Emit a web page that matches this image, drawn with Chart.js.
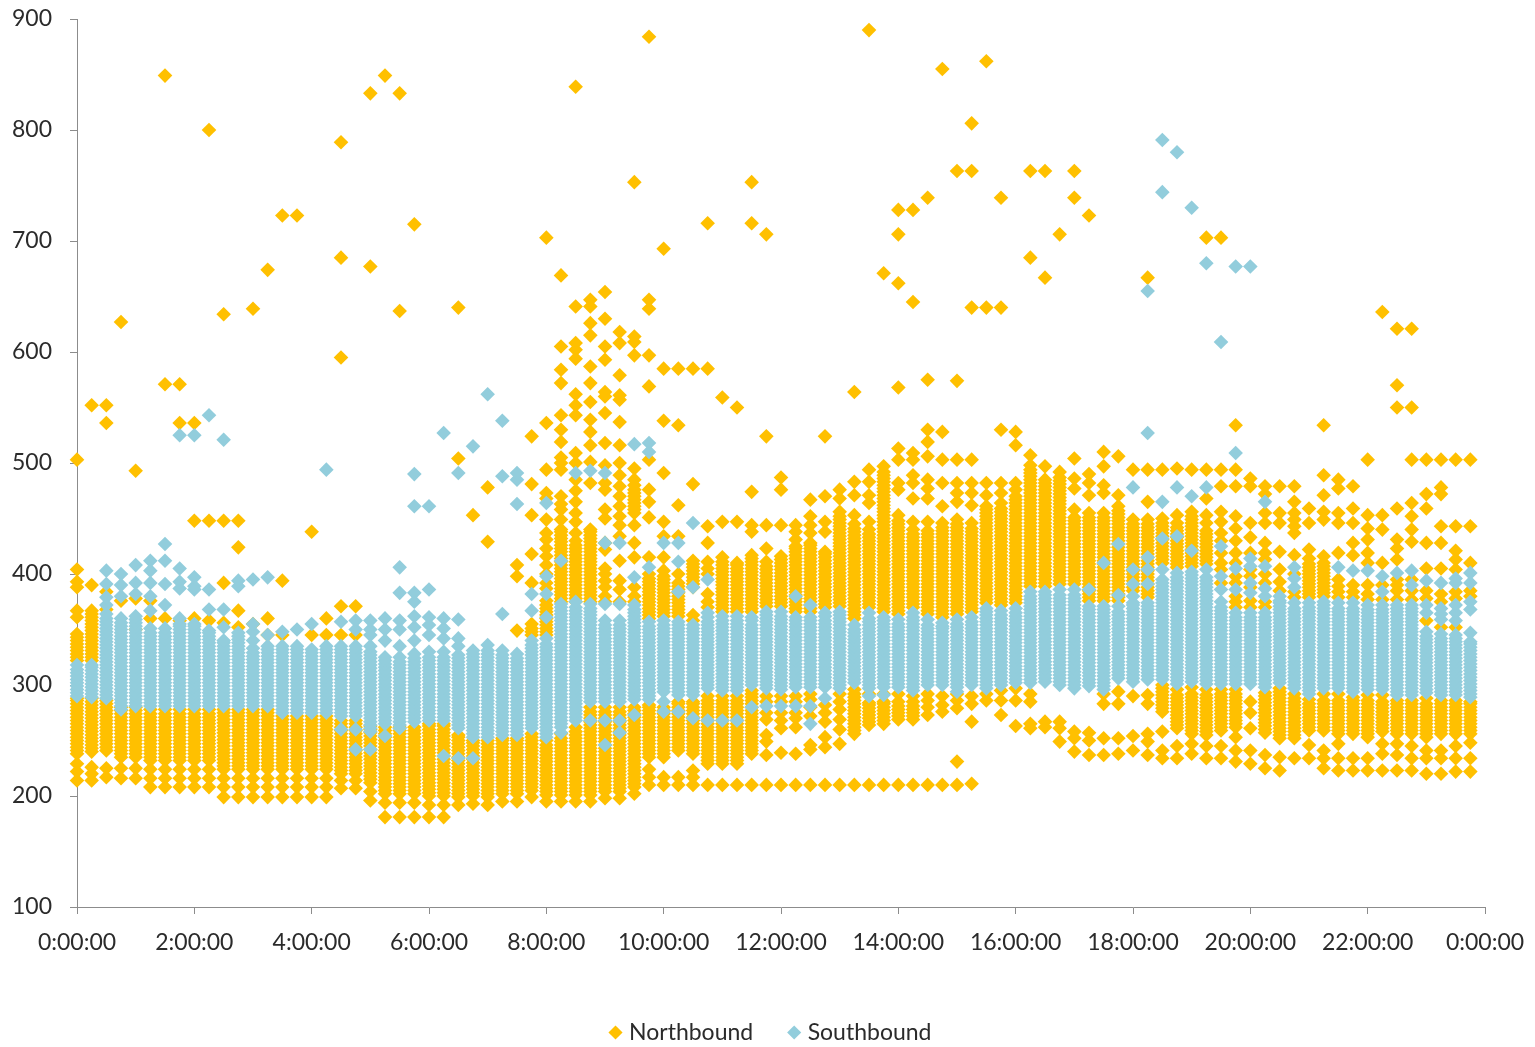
<!DOCTYPE html>
<html>
<head>
<meta charset="utf-8">
<title>Northbound / Southbound</title>
<script src="https://cdn.jsdelivr.net/npm/chart.js@4"></script>
<style>
  body { margin: 0; background: #fff; }
  canvas { display: block; }
</style>
</head>
<body>
<canvas id="chart" width="1535" height="1047"></canvas>
<script>
// minutes after midnight, one column of readings per quarter hour
const slots = [0,15,30,45,60,75,90,105,120,135,150,165,180,195,210,225,240,255,270,285,300,315,330,345,360,375,390,405,420,435,450,465,480,495,510,525,540,555,570,585,600,615,630,645,660,675,690,705,720,735,750,765,780,795,810,825,840,855,870,885,900,915,930,945,960,975,990,1005,1020,1035,1050,1065,1080,1095,1110,1125,1140,1155,1170,1185,1200,1215,1230,1245,1260,1275,1290,1305,1320,1335,1350,1365,1380,1395,1410,1425];

const xTickLabels = ['0:00:00','2:00:00','4:00:00','6:00:00','8:00:00','10:00:00','12:00:00','14:00:00','16:00:00','18:00:00','20:00:00','22:00:00','0:00:00'];

// values, slot by slot
const northbound = [
[214,222,229,238,241,244,247,250,253,256,259,262,265,268,271,274,277,280,283,286,288,322,325,328,331,334,337,340,343,346,361,367,388,393,404,503],
[214,220,226,240,243,246,249,252,255,258,261,264,267,270,273,276,279,282,285,288,322,325,328,331,334,337,340,343,346,349,352,355,358,361,364,367,390,552],
[217,225,241,244,247,250,253,256,259,262,265,268,271,274,277,280,283,286,368,384,536,552],
[216,225,235,238,241,244,247,250,253,256,259,262,265,268,271,274,277,280,376,627],
[216,225,235,238,241,244,247,250,253,256,259,262,265,268,271,274,277,280,350,378,493],
[208,216,224,232,235,238,241,244,247,250,253,256,259,262,265,268,271,274,278,360,376],
[208,216,224,232,235,238,241,244,247,250,253,256,259,262,265,268,271,274,278,360,571,849],
[208,216,224,232,235,238,241,244,247,250,253,256,259,262,265,268,271,274,278,358,536,571],
[208,216,224,232,235,238,241,244,247,250,253,256,259,262,265,268,271,274,278,360,448,536],
[208,216,224,232,235,238,241,244,247,250,253,256,259,262,265,268,271,274,278,358,448,800],
[199,208,216,224,227,230,233,236,239,242,245,248,251,254,257,260,263,266,269,272,275,278,356,392,448,634],
[199,208,216,224,227,230,233,236,239,242,245,248,251,254,257,260,263,266,269,272,275,278,352,367,424,448],
[199,208,216,224,227,230,233,236,239,242,245,248,251,254,257,260,263,266,269,272,275,278,355,639],
[199,208,216,224,227,230,233,236,239,242,245,248,251,254,257,260,263,266,269,272,275,278,345,360,674],
[199,208,216,224,227,230,233,236,239,242,245,248,251,254,257,260,263,266,269,272,345,394,723],
[199,208,216,224,227,230,233,236,239,242,245,248,251,254,257,260,263,266,269,272,723],
[199,208,216,224,227,230,233,236,239,242,245,248,251,254,257,260,263,266,269,272,345,438],
[199,208,216,224,227,230,233,236,239,242,245,248,251,254,257,260,263,266,269,272,345,360],
[207,214,220,223,226,229,232,235,238,241,244,247,250,253,256,259,262,265,268,345,371,595,685,789],
[207,214,220,223,226,229,232,235,238,241,244,247,250,253,256,259,262,265,268,345,371],
[196,204,212,215,218,221,224,227,230,233,236,239,242,245,248,251,254,257,260,263,677,833],
[181,194,202,205,208,211,214,217,220,223,226,229,232,235,238,241,244,247,250,253,256,259,262,849],
[181,194,202,205,208,211,214,217,220,223,226,229,232,235,238,241,244,247,250,253,256,259,262,637,833],
[181,194,202,205,208,211,214,217,220,223,226,229,232,235,238,241,244,247,250,253,256,259,262,715],
[181,192,200,203,206,209,212,215,218,221,224,227,230,233,236,239,242,245,248,251,254,257,260,263,265],
[181,192,200,203,206,209,212,215,218,221,224,227,230,233,236,239,242,245,248,251,254,257,260,263,265],
[192,199,202,205,208,211,214,217,220,223,226,229,232,235,238,241,244,247,250,253,255,504,640],
[193,200,203,206,209,212,215,218,221,224,227,230,233,236,239,242,245,248,250,453],
[192,199,202,205,208,211,214,217,220,223,226,229,232,235,238,241,244,247,250,429,478],
[195,202,205,208,211,214,217,220,223,226,229,232,235,238,241,244,247,250,252],
[195,202,205,208,211,214,217,220,223,226,229,232,235,238,241,244,247,250,252,349,398,408],
[199,205,208,211,214,217,220,223,226,229,232,235,238,241,244,247,250,253,256,345,348,351,355,392,418,453,481,524],
[195,201,204,207,210,213,216,219,222,225,228,231,234,237,240,243,246,250,345,348,351,354,357,360,363,366,369,372,376,387,392,400,408,416,423,431,437,449,468,473,494,536,703],
[195,201,204,207,210,213,216,219,222,225,228,231,234,237,240,243,246,249,252,256,375,378,381,384,387,390,393,396,399,402,405,408,411,414,417,420,423,426,429,432,435,438,440,449,458,463,470,494,500,505,519,530,543,572,584,605,669],
[195,201,204,207,210,213,216,219,222,225,228,231,234,237,240,243,246,249,252,255,258,262,375,378,381,384,387,390,393,396,399,402,405,408,411,414,417,420,423,426,430,437,447,455,465,475,485,500,509,543,552,562,594,602,608,641,839],
[195,201,204,207,210,213,216,219,222,225,228,231,234,237,240,243,246,249,252,255,258,261,264,267,270,273,276,280,375,378,381,384,387,390,393,396,399,402,405,408,411,414,417,420,423,426,429,432,435,438,440,482,501,516,528,539,555,572,587,615,626,641,647],
[198,204,207,210,213,216,219,222,225,228,231,234,237,240,243,246,249,252,255,258,261,264,267,270,273,276,280,375,380,388,394,400,405,422,428,450,458,476,482,498,518,545,560,564,593,605,630,654],
[198,204,207,210,213,216,219,222,225,228,231,234,237,240,243,246,249,252,255,258,261,264,267,270,273,276,280,375,386,394,412,434,444,452,461,470,479,489,500,516,537,557,561,579,608,618],
[202,208,211,214,217,220,223,226,229,232,235,238,241,244,247,250,253,256,259,262,265,268,271,274,277,280,375,380,388,415,428,444,455,458,461,464,467,470,473,476,480,485,495,597,609,614,753],
[210,217,224,235,238,241,244,247,250,253,256,259,262,265,268,271,274,277,280,282,360,363,366,369,372,375,378,381,384,387,390,393,396,400,415,451,465,476,503,569,597,639,647,884],
[210,217,235,238,241,244,247,250,253,256,259,262,265,268,271,274,277,280,362,365,368,371,374,377,380,383,386,389,392,395,398,403,415,434,447,491,538,585,693],
[210,217,241,244,247,250,253,256,259,262,265,268,271,274,277,280,283,285,362,365,368,371,374,377,380,383,386,389,392,400,434,462,534,585],
[210,217,223,238,241,244,247,250,253,256,259,262,265,268,271,274,277,280,283,285,358,363,388,391,394,397,400,403,406,409,412,481,585],
[210,229,232,235,238,241,244,247,250,253,256,259,262,265,268,271,274,277,280,283,286,290,370,375,382,400,405,411,428,443,585,716],
[210,229,232,235,238,241,244,247,250,253,256,259,262,265,268,271,274,277,280,283,286,290,366,369,372,375,378,381,384,387,390,393,396,399,402,405,408,411,415,447,559],
[210,229,232,235,238,241,244,247,250,253,256,259,262,265,268,271,274,277,280,283,286,290,366,369,372,375,378,381,384,387,390,393,396,399,402,405,408,410,447,550],
[210,238,241,244,247,250,253,256,259,262,265,268,271,274,277,280,283,286,289,292,295,366,369,372,375,378,381,384,387,390,393,396,399,402,405,408,411,414,417,438,444,474,716,753],
[210,237,249,255,269,275,285,290,371,374,377,380,383,386,389,392,395,398,401,404,407,411,423,444,524,706],
[210,239,261,268,275,285,290,371,374,377,380,383,386,389,392,395,398,401,404,407,410,413,416,444,476,487],
[210,238,262,270,275,285,290,366,369,372,375,378,381,384,387,390,393,396,399,402,405,408,411,414,417,420,423,425,431,438,444],
[210,242,246,272,280,287,292,366,369,372,375,378,381,384,387,390,393,396,399,402,405,408,411,414,417,420,423,426,428,437,444,452,467],
[210,244,253,267,275,282,370,373,376,379,382,385,388,391,394,397,400,403,406,409,412,415,418,420,438,447,470,524],
[210,247,260,269,278,285,292,371,374,377,380,383,386,389,392,395,398,401,404,407,410,413,416,419,422,425,428,431,434,437,440,443,446,449,452,456,468,476],
[210,256,259,262,265,268,271,274,277,280,283,286,289,292,296,360,363,366,369,372,375,378,381,384,387,390,393,396,399,402,405,408,411,414,417,420,423,426,429,432,435,438,441,445,453,471,483,564],
[210,264,267,270,273,276,279,282,284,292,370,373,376,379,382,385,388,391,394,397,400,403,406,409,412,415,418,421,424,427,430,433,436,440,447,464,471,483,494,890],
[210,265,268,271,274,277,280,283,285,292,366,369,372,375,378,381,384,387,390,393,396,399,402,405,408,411,414,417,420,423,426,429,432,435,438,441,444,447,450,453,456,459,462,465,468,471,474,477,480,483,486,489,492,497,671],
[210,269,272,275,278,281,285,292,364,367,370,373,376,379,382,385,388,391,394,397,400,403,406,409,412,415,418,421,424,427,430,433,436,439,442,445,448,453,476,482,503,513,568,662,706,728],
[210,269,272,275,278,281,285,290,370,373,376,379,382,385,388,391,394,397,400,403,406,409,412,415,418,421,424,427,430,433,436,440,447,468,482,489,503,509,645,728],
[210,273,280,286,292,364,367,370,373,376,379,382,385,388,391,394,397,400,403,406,409,412,415,418,421,424,427,430,433,436,439,447,468,477,485,506,519,530,575,739],
[210,276,282,290,361,364,367,370,373,376,379,382,385,388,391,394,397,400,403,406,409,412,415,418,421,424,427,430,433,436,439,442,446,461,482,503,528,855],
[210,231,279,286,292,364,367,370,373,376,379,382,385,388,391,394,397,400,403,406,409,412,415,418,421,424,427,430,433,436,439,442,445,449,465,473,482,503,574,763],
[211,267,283,290,366,369,372,375,378,381,384,387,390,393,396,399,402,405,408,411,414,417,420,423,426,429,432,435,438,441,446,462,473,482,503,640,763,806],
[286,292,374,377,380,383,386,389,392,395,398,401,404,407,410,413,416,419,422,425,428,431,434,437,440,443,446,449,452,455,458,461,471,482,640,862],
[273,286,295,372,375,378,381,384,387,390,393,396,399,402,405,408,411,414,417,420,423,426,429,432,435,438,441,444,447,450,453,456,459,464,473,482,530,640,739],
[263,286,297,374,377,380,383,386,389,392,395,398,401,404,407,410,413,416,419,422,425,428,431,434,437,440,443,446,449,452,455,458,461,464,467,470,476,482,516,528],
[261,265,285,292,389,392,395,398,401,404,407,410,413,416,419,422,425,428,431,434,437,440,443,446,449,452,455,458,461,464,467,470,473,476,479,482,485,488,491,494,498,507,685,763],
[262,267,389,392,395,398,401,404,407,410,413,416,419,422,425,428,431,434,437,440,443,446,449,452,455,458,461,464,467,470,473,476,479,482,485,497,667,763],
[249,261,267,391,394,397,400,403,406,409,412,415,418,421,424,427,430,433,436,439,442,445,448,451,454,457,460,463,466,469,472,475,478,481,484,487,492,706],
[240,252,258,391,394,397,400,403,406,409,412,415,418,421,424,427,430,433,436,439,442,445,448,451,458,477,486,504,739,763],
[237,250,257,376,379,382,385,388,391,394,397,400,403,406,409,412,415,418,421,424,427,430,433,436,439,442,445,448,451,455,471,482,490,723],
[237,252,283,292,376,379,382,385,388,391,394,397,400,403,406,409,412,415,418,421,424,427,430,433,436,439,442,445,448,451,455,473,480,497,510],
[238,252,283,294,376,379,382,385,388,391,394,397,400,403,406,409,412,415,418,421,424,427,430,433,436,439,442,445,448,451,454,457,461,471,506],
[241,254,290,385,388,391,394,397,400,403,406,409,412,415,418,421,424,427,430,433,436,439,442,445,449,494],
[237,249,256,283,291,379,382,385,388,391,394,397,400,403,406,409,412,415,418,421,424,427,430,433,436,439,442,445,449,465,494,667],
[234,241,258,276,279,282,285,288,291,294,297,300,410,413,416,419,422,425,428,431,434,437,440,443,446,450,494],
[234,245,261,264,267,270,273,276,279,282,285,288,291,296,406,409,412,415,418,421,424,427,430,433,436,439,442,446,453,495],
[238,247,256,259,262,265,268,271,274,277,280,283,286,289,292,298,407,410,413,416,419,422,425,428,431,434,437,440,443,446,449,452,456,494],
[234,245,255,258,261,264,267,270,273,276,279,282,285,288,291,296,409,412,415,418,421,424,427,430,433,436,439,446,453,468,494,703],
[234,245,259,262,265,268,271,274,277,280,283,286,289,292,296,392,404,410,419,430,437,447,456,479,494,703],
[231,241,253,262,265,268,271,274,277,280,283,286,289,292,296,370,375,380,392,398,410,419,430,441,452,479,494,534],
[229,241,261,275,285,370,376,388,398,404,419,433,446,479,486],
[225,237,257,260,263,266,269,272,275,278,281,284,287,290,293,370,375,392,400,413,419,428,446,455,472,479],
[223,235,252,255,258,261,264,267,270,273,276,279,282,285,288,291,294,297,385,393,404,420,446,455,479],
[234,252,255,258,261,264,267,270,273,276,279,282,285,288,292,379,384,400,417,437,443,449,455,465,479],
[234,246,259,262,265,268,271,274,277,280,283,287,379,382,385,388,391,394,397,400,403,406,409,414,422,446,459],
[225,234,241,259,262,265,268,271,274,277,280,283,286,292,380,383,386,389,392,395,398,401,404,407,410,416,449,456,471,489,534],
[223,234,247,256,259,262,265,268,271,274,277,280,283,286,292,379,384,389,395,419,446,455,477,485],
[223,234,256,259,262,265,268,271,274,277,280,283,286,289,379,384,390,417,428,446,459,479],
[223,234,253,256,259,262,265,268,271,274,277,280,283,286,291,377,382,390,410,419,431,441,453,503],
[223,238,247,258,261,264,267,270,273,276,279,282,285,291,377,390,410,440,453,636],
[223,237,247,256,259,262,265,268,271,274,277,280,283,286,377,385,390,395,413,423,431,459,550,570,621],
[223,234,245,256,259,262,265,268,271,274,277,280,283,286,377,385,395,429,440,452,464,503,550,621],
[220,234,241,253,256,259,262,265,268,271,274,277,280,283,288,358,378,385,405,428,459,472,503],
[220,234,241,256,259,262,265,268,271,274,277,280,283,286,352,375,382,405,428,443,472,478,503],
[222,234,245,256,259,262,265,268,271,274,277,280,283,286,352,378,384,404,413,421,443,503],
[222,234,248,256,259,262,265,268,271,274,277,280,283,285,380,385,410,443,503]
];

const southbound = [
[290,293,296,299,302,305,308,311,314,318],
[289,292,295,298,301,304,307,310,313,316,318],
[288,291,294,297,300,303,306,309,312,315,318,321,324,327,330,333,336,339,342,345,348,351,354,357,360,364,372,379,391,403],
[278,281,284,287,290,293,296,299,302,305,308,311,314,317,320,323,326,329,332,335,338,341,344,347,350,353,356,360,380,390,400],
[281,284,287,290,293,296,299,302,305,308,311,314,317,320,323,326,329,332,335,338,341,344,347,350,353,356,359,362,382,392,408],
[281,284,287,290,293,296,299,302,305,308,311,314,317,320,323,326,329,332,335,338,341,344,347,351,367,380,392,403,412],
[281,284,287,290,293,296,299,302,305,308,311,314,317,320,323,326,329,332,335,338,341,344,347,351,372,391,412,427],
[281,284,287,290,293,296,299,302,305,308,311,314,317,320,323,326,329,332,335,338,341,344,347,350,353,355,360,387,393,405,525],
[281,284,287,290,293,296,299,302,305,308,311,314,317,320,323,326,329,332,335,338,341,344,347,350,353,355,386,389,397,525],
[281,284,287,290,293,296,299,302,305,308,311,314,317,320,323,326,329,332,335,338,341,344,347,349,368,386,543],
[281,284,287,290,293,296,299,302,305,308,311,314,317,320,323,326,329,332,335,338,340,352,368,521],
[281,284,287,290,293,296,299,302,305,308,311,314,317,320,323,326,329,332,335,338,341,344,347,389,394],
[281,284,287,290,293,296,299,302,305,308,311,314,317,320,323,326,329,333,340,348,355,395],
[281,284,287,290,293,296,299,302,305,308,311,314,317,320,323,326,329,332,335,345,397],
[275,278,281,284,287,290,293,296,299,302,305,308,311,314,317,320,323,326,329,332,335,348],
[275,278,281,284,287,290,293,296,299,302,305,308,311,314,317,320,323,326,329,332,335,350],
[275,278,281,284,287,290,293,296,299,302,305,308,311,314,317,320,323,326,329,332,355],
[275,278,281,284,287,290,293,296,299,302,305,308,311,314,317,320,323,326,329,332,335,494],
[260,272,275,278,281,284,287,290,293,296,299,302,305,308,311,314,317,320,323,326,329,332,335,357],
[242,260,272,275,278,281,284,287,290,293,296,299,302,305,308,311,314,317,320,323,326,329,332,335,350,358],
[242,258,261,264,267,270,273,276,279,282,285,288,291,294,297,300,303,306,309,312,315,318,321,324,327,330,335,345,350,358],
[254,265,268,271,274,277,280,283,286,289,292,295,298,301,304,307,310,313,316,319,322,325,340,350,360],
[261,264,267,270,273,276,279,282,285,288,291,294,297,300,303,306,309,312,315,318,321,325,335,350,358,383,406],
[267,270,273,276,279,282,285,288,291,294,297,300,303,306,309,312,315,318,321,324,328,340,352,362,375,383,461,490],
[268,271,274,277,280,283,286,289,292,295,298,301,304,307,310,313,316,319,322,325,330,345,354,361,386,461],
[236,268,271,274,277,280,283,286,289,292,295,298,301,304,307,310,313,316,319,322,325,330,342,351,360,527],
[234,261,264,267,270,273,276,279,282,285,288,291,294,297,300,303,306,309,312,315,318,321,324,327,335,342,359,491],
[234,253,256,259,262,265,268,271,274,277,280,283,286,289,292,295,298,301,304,307,310,313,316,319,322,325,328,331,515],
[253,256,259,262,265,268,271,274,277,280,283,286,289,292,295,298,301,304,307,310,313,316,319,322,325,328,331,336,562],
[255,258,261,264,267,270,273,276,279,282,285,288,291,294,297,300,303,306,309,312,315,318,321,324,327,331,364,488,538],
[255,258,261,264,267,270,273,276,279,282,285,288,291,294,297,300,303,306,309,312,315,318,321,324,328,463,485,491],
[261,264,267,270,273,276,279,282,285,288,291,294,297,300,303,306,309,312,315,318,321,324,327,330,333,336,340,367,382],
[253,256,259,262,265,268,271,274,277,280,283,286,289,292,295,298,301,304,307,310,313,316,319,322,325,328,331,334,337,342,361,382,398,464],
[257,262,265,268,271,274,277,280,283,286,289,292,295,298,301,304,307,310,313,316,319,322,325,328,331,334,337,340,343,346,349,352,355,358,361,364,367,370,373,412],
[268,271,274,277,280,283,286,289,292,295,298,301,304,307,310,313,316,319,322,325,328,331,334,337,340,343,346,349,352,355,358,361,364,367,370,375,491],
[268,285,288,291,294,297,300,303,306,309,312,315,318,321,324,327,330,333,336,339,342,345,348,351,354,357,360,363,366,369,373,493],
[246,268,285,288,291,294,297,300,303,306,309,312,315,318,321,324,327,330,333,336,339,342,345,348,351,354,358,373,428,491],
[257,268,285,288,291,294,297,300,303,306,309,312,315,318,321,324,327,330,333,336,339,342,345,348,351,354,358,373,428],
[273,287,290,293,296,299,302,305,308,311,314,317,320,323,326,329,332,335,338,341,344,347,350,353,356,359,362,365,368,372,397,517],
[287,290,293,296,299,302,305,308,311,314,317,320,323,326,329,332,335,338,341,344,347,350,353,357,406,510,518],
[276,285,294,297,300,303,306,309,312,315,318,321,324,327,330,333,336,339,342,345,348,351,354,358,428],
[276,291,294,297,300,303,306,309,312,315,318,321,324,327,330,333,336,339,342,345,348,351,354,357,384,411,428],
[270,291,294,297,300,303,306,309,312,315,318,321,324,327,330,333,336,339,342,345,348,351,354,388,446],
[268,297,300,303,306,309,312,315,318,321,324,327,330,333,336,339,342,345,348,351,354,357,361,365,395],
[268,295,298,301,304,307,310,313,316,319,322,325,328,331,334,337,340,343,346,349,352,355,358,362],
[268,295,298,301,304,307,310,313,316,319,322,325,328,331,334,337,340,343,346,349,352,355,358,362],
[280,300,303,306,309,312,315,318,321,324,327,330,333,336,339,342,345,348,351,354,358,361],
[281,297,300,303,306,309,312,315,318,321,324,327,330,333,336,339,342,345,348,351,354,357,360,363,366],
[281,296,299,302,305,308,311,314,317,320,323,326,329,332,335,338,341,344,347,350,353,356,359,362,366],
[281,298,301,304,307,310,313,316,319,322,325,328,331,334,337,340,343,346,349,352,355,358,361,380],
[265,281,298,301,304,307,310,313,316,319,322,325,328,331,334,337,340,343,346,349,352,355,358,361,372],
[288,298,301,304,307,310,313,316,319,322,325,328,331,334,337,340,343,346,349,352,355,358,362,365],
[297,300,303,306,309,312,315,318,321,324,327,330,333,336,339,342,345,348,351,354,357,360,363,366],
[302,305,308,311,314,317,320,323,326,329,332,335,338,341,344,347,350,354],
[290,297,300,303,306,309,312,315,318,321,324,327,330,333,336,339,342,345,348,351,354,357,360,365],
[291,298,301,304,307,310,313,316,319,322,325,328,331,334,337,340,343,346,349,352,355,358,361],
[298,301,304,307,310,313,316,319,322,325,328,331,334,337,340,343,346,349,352,355,359],
[295,298,301,304,307,310,313,316,319,322,325,328,331,334,337,340,343,346,349,352,355,358,361,365],
[300,303,306,309,312,315,318,321,324,327,330,333,336,339,342,345,348,351,354,359],
[300,303,306,309,312,315,318,321,324,327,330,333,336,339,342,345,348,351,353,356],
[294,298,301,304,307,310,313,316,319,322,325,328,331,334,337,340,343,346,349,352,355,359],
[300,303,306,309,312,315,318,321,324,327,330,333,336,339,342,345,348,351,354,357,361],
[297,300,303,306,309,312,315,318,321,324,327,330,333,336,339,342,345,348,351,354,357,360,363,366,369],
[300,303,306,309,312,315,318,321,324,327,330,333,336,339,342,345,348,351,354,357,360,363,367],
[302,305,308,311,314,317,320,323,326,329,332,335,338,341,344,347,350,353,356,359,362,365,369],
[302,305,308,311,314,317,320,323,326,329,332,335,338,341,344,347,350,353,356,359,362,365,368,371,374,377,380,384],
[303,306,309,312,315,318,321,324,327,330,333,336,339,342,345,348,351,354,357,360,363,366,369,372,375,378,381,384],
[300,303,306,309,312,315,318,321,324,327,330,333,336,339,342,345,348,351,354,357,360,363,366,369,372,375,378,381,386],
[297,300,303,306,309,312,315,318,321,324,327,330,333,336,339,342,345,348,351,354,357,360,363,366,369,372,375,378,381,386],
[299,302,305,308,311,314,317,320,323,326,329,332,335,338,341,344,347,350,353,356,359,362,365,368,371,386],
[296,299,302,305,308,311,314,317,320,323,326,329,332,335,338,341,344,347,350,353,356,359,362,365,368,371,410],
[306,309,312,315,318,321,324,327,330,333,336,339,342,345,348,351,354,357,360,363,366,371,381,427],
[303,306,309,312,315,318,321,324,327,330,333,336,339,342,345,348,351,354,357,360,363,366,369,372,374,380,391,404,478],
[305,308,311,314,317,320,323,326,329,332,335,338,341,344,347,350,353,356,359,362,365,368,371,374,391,404,415,527,655],
[305,308,311,314,317,320,323,326,329,332,335,338,341,344,347,350,353,356,359,362,365,368,371,374,377,380,383,386,389,392,395,404,432,465,744,791],
[301,304,307,310,313,316,319,322,325,328,331,334,337,340,343,346,349,352,355,358,361,364,367,370,373,376,379,382,385,388,391,394,397,401,434,478,780],
[303,306,309,312,315,318,321,324,327,330,333,336,339,342,345,348,351,354,357,360,363,366,369,372,375,378,381,384,387,390,393,396,399,402,421,470,730],
[301,304,307,310,313,316,319,322,325,328,331,334,337,340,343,346,349,352,355,358,361,364,367,370,373,376,379,382,385,388,391,394,397,404,478,680],
[301,304,307,310,313,316,319,322,325,328,331,334,337,340,343,346,349,352,355,358,361,364,367,370,375,386,398,425,609],
[301,304,307,310,313,316,319,322,325,328,331,334,337,340,343,346,349,352,355,358,361,365,386,405,509,677],
[301,304,307,310,313,316,319,322,325,328,331,334,337,340,343,346,349,352,355,358,361,365,383,392,407,414,677],
[298,301,304,307,310,313,316,319,322,325,328,331,334,337,340,343,346,349,352,355,358,361,365,380,387,407,465],
[302,305,308,311,314,317,320,323,326,329,332,335,338,341,344,347,350,353,356,359,362,365,368,371,374,376,380],
[297,300,303,306,309,312,315,318,321,324,327,330,333,336,339,342,345,348,351,354,357,360,363,366,369,374,388,396,406],
[292,295,298,301,304,307,310,313,316,319,322,325,328,331,334,337,340,343,346,349,352,355,358,361,364,367,370,374],
[297,300,303,306,309,312,315,318,321,324,327,330,333,336,339,342,345,348,351,354,357,360,363,366,369,372,375],
[297,300,303,306,309,312,315,318,321,324,327,330,333,336,339,342,345,348,351,354,357,360,363,366,369,374,406],
[294,297,300,303,306,309,312,315,318,321,324,327,330,333,336,339,342,345,348,351,354,357,360,363,366,369,374,403],
[296,299,302,305,308,311,314,317,320,323,326,329,332,335,338,341,344,347,350,353,356,359,362,365,368,372,403],
[296,299,302,305,308,311,314,317,320,323,326,329,332,335,338,341,344,347,350,353,356,359,362,365,368,372,384,398],
[291,294,297,300,303,306,309,312,315,318,321,324,327,330,333,336,339,342,345,348,351,354,357,360,363,366,369,372,401],
[291,294,297,300,303,306,309,312,315,318,321,324,327,330,333,336,339,342,345,348,351,354,357,360,363,366,369,372,390,403],
[293,296,299,302,305,308,311,314,317,320,323,326,329,332,335,338,341,344,348,365,372,394],
[291,294,297,300,303,306,309,312,315,318,321,324,327,330,333,336,339,342,346,359,364,369,392],
[291,294,297,300,303,306,309,312,315,318,321,324,327,330,333,336,339,342,345,358,365,372,392,396],
[289,292,295,298,301,304,307,310,313,316,319,322,325,328,331,334,337,339,347,368,375,392,401]
];

const AXIS_COLOR = '#8c8c8c';
const TEXT_COLOR = '#2b2b2b';
const FONT = { family: "Lato, 'Open Sans', sans-serif", size: 23 };

function toPoints(columns) {
  return columns.flatMap((col, i) => col.map(v => ({ x: slots[i], y: v })));
}

// the legend in the reference sits a little lower and further right than the default box
const legendShift = {
  id: 'legendShift',
  afterLayout(chart) {
    chart.legend.top += 7;
    chart.legend.left += 30;
    chart.legend.right += 30;
  }
};

new Chart(document.getElementById('chart'), {
  type: 'scatter',
  plugins: [legendShift],
  data: {
    datasets: [
      { label: 'Northbound', data: toPoints(northbound), backgroundColor: '#FFC000', order: 2 },
      { label: 'Southbound', data: toPoints(southbound), backgroundColor: '#92CDDC', order: 1 }
    ]
  },
  options: {
    responsive: false,
    animation: false,
    clip: false,
    layout: { autoPadding: false, padding: { top: 19, right: 50, left: 0, bottom: 0 } },
    elements: { point: { pointStyle: 'rectRot', radius: 7.3, borderWidth: 0 } },
    plugins: {
      tooltip: { enabled: false },
      legend: {
        position: 'bottom',
        labels: {
          usePointStyle: true,
          boxWidth: 4,
          boxHeight: 10,
          padding: 39,
          color: TEXT_COLOR,
          font: FONT,
          sort: (a, b) => a.datasetIndex - b.datasetIndex
        }
      }
    },
    scales: {
      x: {
        type: 'linear',
        min: 0,
        max: 1440,
        afterFit: s => { s.height = 68; s.paddingLeft = 0; s.paddingRight = 0; },
        ticks: {
          stepSize: 120,
          maxRotation: 0,
          autoSkip: false,
          padding: 15,
          color: TEXT_COLOR,
          font: FONT,
          callback: (v, i) => xTickLabels[i]
        },
        grid: { drawOnChartArea: false, color: AXIS_COLOR, tickLength: 7 },
        border: { color: AXIS_COLOR, width: 1 }
      },
      y: {
        min: 100,
        max: 900,
        afterFit: s => { s.width = 77; s.paddingTop = 0; s.paddingBottom = 0; },
        ticks: { stepSize: 100, padding: 18, color: TEXT_COLOR, font: FONT },
        grid: { drawOnChartArea: false, color: AXIS_COLOR, tickLength: 7 },
        border: { color: AXIS_COLOR, width: 1 }
      }
    }
  }
});
</script>
</body>
</html>
